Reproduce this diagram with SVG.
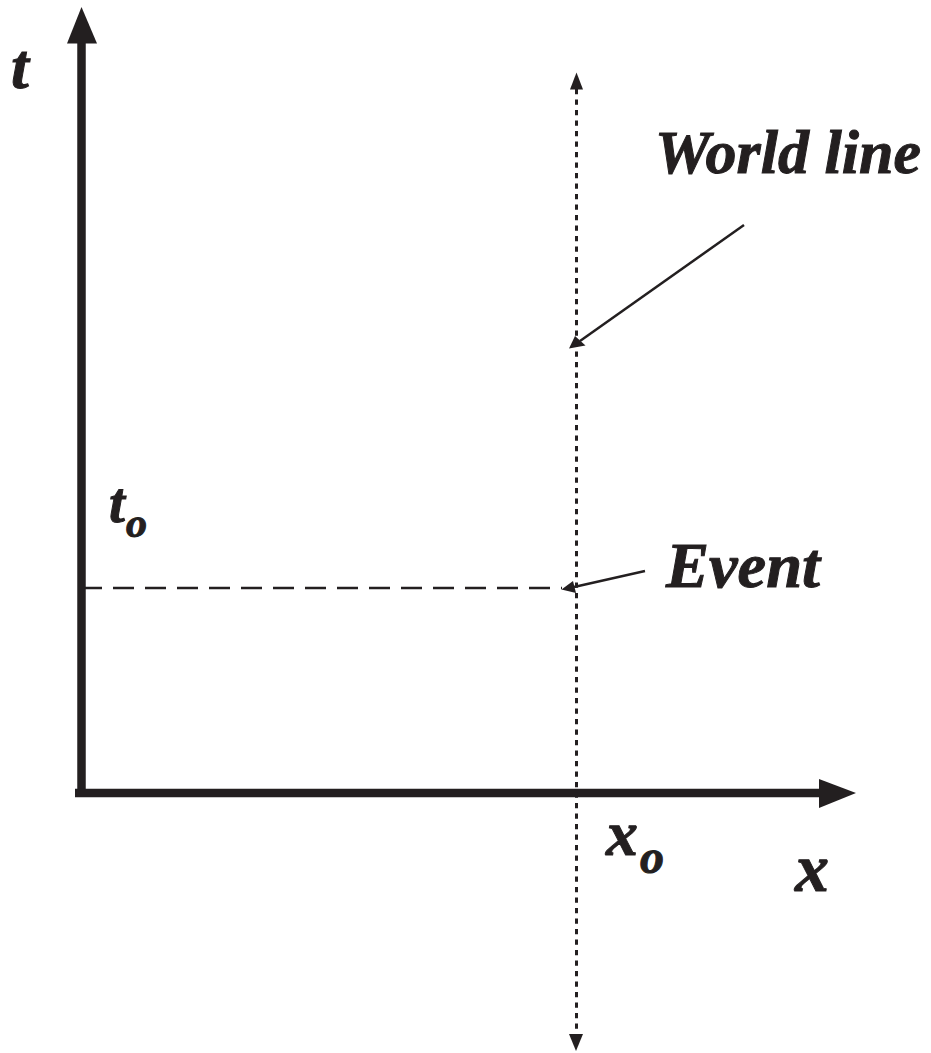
<svg xmlns="http://www.w3.org/2000/svg" width="931" height="1053" viewBox="0 0 931 1053">
<style>
.ink{fill:#231f20}
.axis{stroke:#231f20;stroke-width:8.5;fill:none}
.dotted{stroke:#231f20;stroke-width:3;stroke-dasharray:5.3 5.2;fill:none}
.dashed{stroke:#231f20;stroke-width:2.5;stroke-dasharray:21 11;stroke-dashoffset:4;fill:none}
.pointer{stroke:#231f20;stroke-width:2.5;fill:none}
.lbl{font-family:"Liberation Serif","Times New Roman",serif;font-weight:bold;font-style:italic;fill:#231f20;stroke:#231f20;stroke-width:1}
</style>
<rect width="931" height="1053" fill="#fff"/>
<g id="t-axis">
<line class="axis" x1="81.5" y1="797" x2="81.5" y2="42"/>
<polygon class="ink" points="81.5,7 67,43.5 97,43.5"/>
<text class="lbl" x="11" y="88" font-size="64">t</text>
</g>
<g id="x-axis">
<line class="axis" x1="75" y1="793" x2="820" y2="793"/>
<polygon class="ink" points="856,793 819,779 819,808"/>
<text class="lbl" x="795" y="891" font-size="68">x</text>
</g>
<g id="world-line">
<line class="dotted" x1="576.5" y1="89" x2="576.5" y2="1034"/>
<polygon class="ink" points="576.5,72.5 570,89.5 583,89.5"/>
<polygon class="ink" points="576,1051 569,1034 583,1034"/>
</g>
<g id="event-line">
<line class="dashed" x1="85" y1="588" x2="562" y2="588"/>
</g>
<g id="label-t0">
<text class="lbl" x="109" y="522" font-size="57">t</text>
<text class="lbl" x="126" y="537" font-size="42">o</text>
</g>
<g id="label-x0">
<text class="lbl" x="606" y="855" font-size="64">x</text>
<text class="lbl" x="640" y="873" font-size="48">o</text>
</g>
<g id="label-world-line">
<text class="lbl" x="655" y="173" font-size="62" textLength="266" lengthAdjust="spacingAndGlyphs">World line</text>
</g>
<g id="label-event">
<text class="lbl" x="666" y="587" font-size="64" textLength="154" lengthAdjust="spacingAndGlyphs">Event</text>
</g>
<g id="connectors">
<line class="pointer" x1="744" y1="225" x2="580" y2="341"/>
<polygon class="ink" points="569,348.5 575,336 585.5,345.5"/>
<line class="pointer" x1="645" y1="571" x2="574" y2="587"/>
<polygon class="ink" points="561.5,589.5 573,581 576,593"/>
</g>
</svg>
